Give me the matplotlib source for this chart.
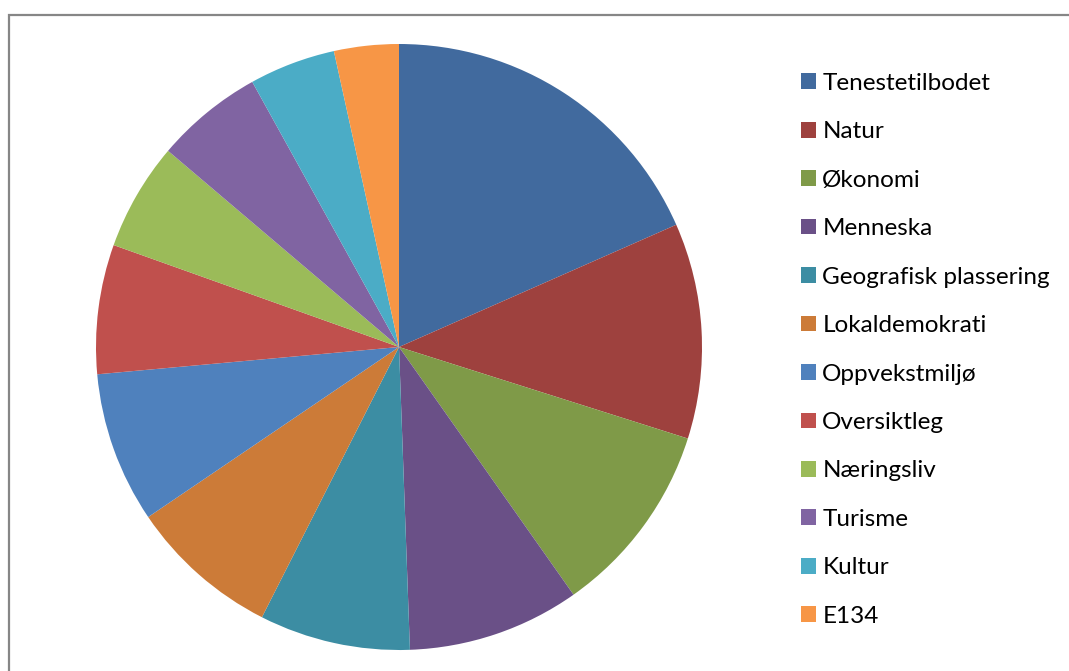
import matplotlib
matplotlib.use("Agg")
import matplotlib.pyplot as plt
from matplotlib.patches import Rectangle, Patch

labels = ['Tenestetilbodet', 'Natur', 'Økonomi', 'Menneska', 'Geografisk plassering',
          'Lokaldemokrati', 'Oppvekstmiljø', 'Oversiktleg', 'Næringsliv', 'Turisme',
          'Kultur', 'E134']
counts = [16, 10, 9, 8, 7, 7, 7, 6, 5, 5, 4, 3]
colors = ['#416A9E', '#9E413E', '#7F9A48', '#6A5087', '#3C8DA3', '#CC7B38',
          '#4F81BD', '#C0504D', '#9BBB59', '#8064A2', '#4BACC6', '#F79646']

plt.rcParams['font.family'] = ['Lato', 'DejaVu Sans']

fig = plt.figure(figsize=(10.69, 6.71), dpi=100, facecolor='white')
ax = fig.add_axes([96 / 1069, 21 / 671, 606 / 1069, 606 / 671])
ax.pie(counts, colors=colors, startangle=90, counterclock=False, radius=1.0,
       wedgeprops={'linewidth': 0})
ax.set_xlim(-1, 1)
ax.set_ylim(-1, 1)
ax.set_aspect('equal')
ax.axis('off')

# chart area border (left and top edges visible)
fig.add_artist(Rectangle((8.5 / 1069, -0.1), 1.2, 1 - 14.5 / 671 + 0.1,
                         transform=fig.transFigure, fill=False,
                         edgecolor='#868686', linewidth=1.6))

handles = [Patch(facecolor=c, edgecolor='none') for c in colors]
fig.legend(handles, labels, loc='upper left', bbox_to_anchor=(791 / 1069, 1 - 63 / 671),
           frameon=False, fontsize=17.5, handlelength=0.62, handleheight=0.62,
           handletextpad=0.27, labelspacing=1.13, borderaxespad=0)

fig.savefig('out.png', dpi=100, facecolor='white')
